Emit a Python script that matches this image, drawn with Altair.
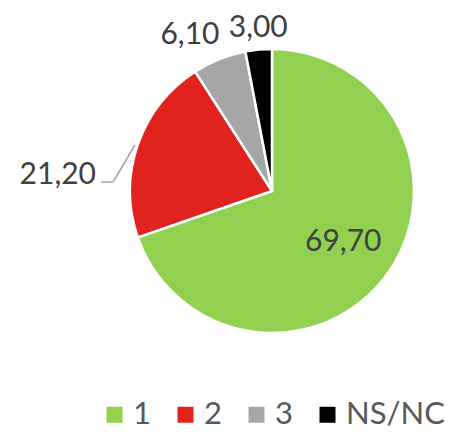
import altair as alt
import pandas as pd

categories = ["1", "2", "3", "NS/NC"]
values = [69.70, 21.20, 6.10, 3.00]
colors = ["#92D050", "#E0231F", "#A6A6A6", "#000000"]

df = pd.DataFrame({"cat": categories, "v": values, "ord": list(range(len(categories)))})

FONT = "Lato"
R = 142

base = alt.Chart(df).encode(
    theta=alt.Theta("v:Q", stack=True),
    order=alt.Order("ord:Q"),
)

pie = base.mark_arc(radius=R, stroke="white", strokeWidth=2.5).encode(
    color=alt.Color(
        "cat:N",
        scale=alt.Scale(domain=categories, range=colors),
        sort=categories,
        legend=alt.Legend(
            title=None,
            orient="none",
            direction="horizontal",
            legendX=-31,
            legendY=350,
            padding=0,
            symbolType="square",
            symbolSize=256,
            symbolStrokeWidth=0,
            labelFont=FONT,
            labelFontSize=31,
            labelColor="#595959",
            labelOffset=3,
            columnPadding=19,
        ),
    )
)


def label_layer(cat, radius, dx, dy):
    return base.transform_calculate(
        lab=f"datum.cat == '{cat}' ? replace(format(datum.v, '.2f'), '.', ',') : ''"
    ).mark_text(
        radius=radius, dx=dx, dy=dy, font=FONT, fontSize=30, color="#404040",
        align="center", baseline="middle"
    ).encode(text="lab:N")


labels = [
    label_layer("1", 85, 2, 2),
    label_layer("2", 160, -63, 36),
    label_layer("3", 178, -16, 9),
    label_layer("NS/NC", 167.5, 2, 4),
]

leader = alt.Chart(pd.DataFrame({"a": [0]})).mark_rule(color="#A6A6A6", strokeWidth=1.5)
seg1 = leader.encode(x=alt.value(-29), x2=alt.value(-17), y=alt.value(133), y2=alt.value(133))
seg2 = leader.encode(x=alt.value(-17), x2=alt.value(5), y=alt.value(133), y2=alt.value(96))

chart = alt.layer(pie, *labels, seg1, seg2).properties(
    width=2 * R,
    height=2 * R,
    padding={"left": 122, "top": 41, "right": 33, "bottom": 94},
    autosize=alt.AutoSizeParams(type="none"),
).configure_view(stroke=None)

chart.save("out.html", embed_options={"renderer": "svg", "actions": False})
